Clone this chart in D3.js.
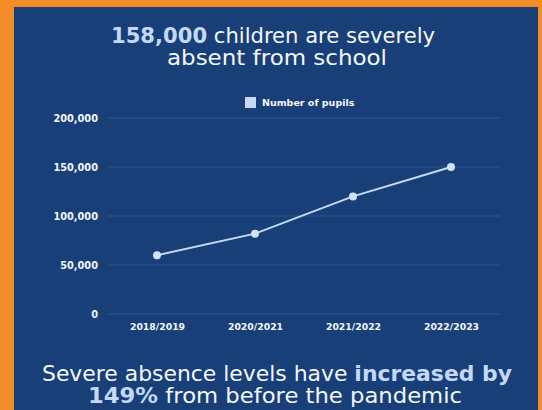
<!DOCTYPE html>
<html>
<head>
<meta charset="utf-8">
<script src="https://cdn.jsdelivr.net/npm/d3@7"></script>
<style>
  html, body { margin: 0; padding: 0; background: #f28c28; }
  svg { display: block; }
  text { font-family: "DejaVu Sans", "Open Sans", sans-serif; }
</style>
</head>
<body>
<svg id="chart" width="542" height="410"></svg>
<script>
const years = ['2018/2019', '2020/2021', '2021/2022', '2022/2023']
const pupils = [60000, 82000, 120000, 150000]
const yTicks = [0, 50000, 100000, 150000, 200000]
const seriesName = 'Number of pupils'

const W = 542, H = 410
const white = '#f4f7fc', pale = '#c4d9f8'
const svg = d3.select('#chart')

// blue panel inside orange frame
svg.append('rect')
  .attr('x', 14).attr('y', 7)
  .attr('width', 524).attr('height', H - 7)
  .attr('fill', '#183f78')

const plot = { left: 108, right: 500, top: 118, bottom: 314 }

const x = d3.scalePoint()
  .domain(years)
  .range([plot.left, plot.right])
  .padding(0.5)

const y = d3.scaleLinear()
  .domain([0, 200000])
  .range([plot.bottom, plot.top])

// grid
svg.append('g')
  .selectAll('line')
  .data(yTicks)
  .join('line')
    .attr('x1', plot.left).attr('x2', plot.right)
    .attr('y1', d => y(d)).attr('y2', d => y(d))
    .attr('stroke', '#2d5993')
    .attr('stroke-width', 1)

// y axis labels
const yAxis = svg.append('g')
  .attr('transform', `translate(${plot.left - 10},0)`)
  .call(d3.axisLeft(y).tickValues(yTicks).tickFormat(d3.format(',')).tickSize(0).tickPadding(0))
yAxis.select('.domain').remove()
yAxis.selectAll('text')
  .attr('fill', white)
  .attr('font-family', 'DejaVu Sans')
  .attr('font-size', 9.8)
  .attr('font-weight', 700)

// x axis labels
const xAxis = svg.append('g')
  .attr('transform', `translate(0,${plot.bottom + 9})`)
  .call(d3.axisBottom(x).tickSize(0).tickPadding(0))
xAxis.select('.domain').remove()
xAxis.selectAll('text')
  .attr('fill', white)
  .attr('font-family', 'DejaVu Sans')
  .attr('font-size', 9.3)
  .attr('font-weight', 700)

// line + points
const line = d3.line()
  .x((d, i) => x(years[i]))
  .y(d => y(d))

svg.append('path')
  .datum(pupils)
  .attr('d', line)
  .attr('fill', 'none')
  .attr('stroke', '#c6daf7')
  .attr('stroke-width', 2)

svg.append('g')
  .selectAll('circle')
  .data(pupils)
  .join('circle')
    .attr('cx', (d, i) => x(years[i]))
    .attr('cy', d => y(d))
    .attr('r', 4)
    .attr('fill', '#d3e2f9')

// legend
svg.append('rect')
  .attr('x', 245).attr('y', 97)
  .attr('width', 11).attr('height', 11)
  .attr('fill', '#c6daf7')
svg.append('text')
  .attr('x', 262).attr('y', 106)
  .attr('fill', white)
  .attr('font-size', 9.5)
  .attr('font-weight', 700)
  .text(seriesName)

// a line of mixed text, stretched to span x0..x1
function textRow(parts, x0, x1, baseline, size) {
  const nodes = parts.map(p => svg.append('text')
    .attr('y', baseline)
    .attr('font-size', size)
    .attr('font-weight', p.bold ? 700 : 400)
    .attr('fill', p.bold ? pale : white)
    .attr('xml:space', 'preserve')
    .text(p.t))
  const widths = nodes.map(n => n.node().getComputedTextLength())
  const k = (x1 - x0) / d3.sum(widths)
  let cx = x0
  nodes.forEach((n, i) => {
    const w = widths[i] * k
    n.attr('x', cx).attr('textLength', w).attr('lengthAdjust', 'spacingAndGlyphs')
    cx += w
  })
}

// title
textRow([{ t: '158,000', bold: true }, { t: ' children are severely' }], 111, 435, 43, 21)
textRow([{ t: 'absent from school' }], 167, 387, 65, 21)

// footer
textRow([{ t: 'Severe absence levels have ' }, { t: 'increased by', bold: true }], 42, 512, 381, 21)
textRow([{ t: '149%', bold: true }, { t: ' from before the pandemic' }], 88, 462, 403, 21)
</script>
</body>
</html>
